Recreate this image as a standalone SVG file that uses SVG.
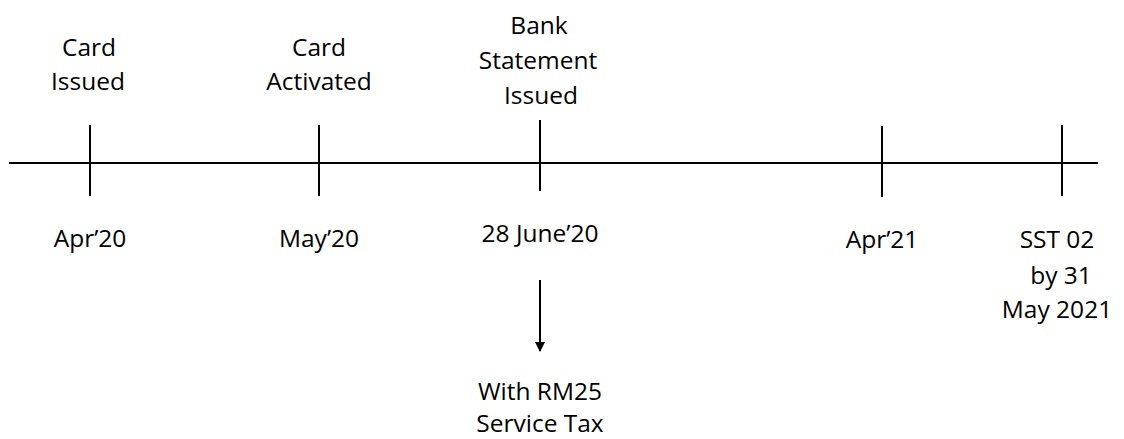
<svg xmlns="http://www.w3.org/2000/svg" width="1124" height="439" viewBox="0 0 1124 439">
<defs>
<style>
text{font-family:"Open Sans","Noto Sans","Liberation Sans",sans-serif;font-size:24.5px;fill:#000;text-anchor:middle}
.ln{stroke:#000;stroke-width:2;fill:none}
</style>
<marker id="ah" markerWidth="10" markerHeight="10" refX="9" refY="5" orient="auto" markerUnits="userSpaceOnUse">
<path d="M0,0 L10,5 L0,10 Z" fill="#000"/>
</marker>
</defs>
<rect width="1124" height="439" fill="#fff"/>
<g id="connectors">
<line class="ln" x1="9" y1="163" x2="1098" y2="163"/>
<line class="ln" x1="540" y1="280" x2="540" y2="351" marker-end="url(#ah)"/>
</g>
<g id="n-apr20">
<line class="ln" x1="90" y1="125" x2="90" y2="196"/>
<text x="89" y="56">Card</text>
<text x="88" y="90">Issued</text>
<text x="90" y="247">Apr’20</text>
</g>
<g id="n-may20">
<line class="ln" x1="319" y1="125" x2="319" y2="196"/>
<text x="319" y="56">Card</text>
<text x="319" y="90">Activated</text>
<text x="319" y="247">May’20</text>
</g>
<g id="n-june20">
<line class="ln" x1="540" y1="120" x2="540" y2="191"/>
<text x="539" y="34">Bank</text>
<text x="538" y="69">Statement</text>
<text x="541" y="104">Issued</text>
<text x="540" y="242">28 June’20</text>
</g>
<g id="n-apr21">
<line class="ln" x1="882" y1="126" x2="882" y2="197"/>
<text x="882" y="248">Apr’21</text>
</g>
<g id="n-sst">
<line class="ln" x1="1062" y1="125" x2="1062" y2="196"/>
<text x="1057" y="248">SST 02</text>
<text x="1061" y="284">by 31</text>
<text x="1057" y="318">May 2021</text>
</g>
<g id="n-tax">
<text x="540" y="400">With RM25</text>
<text x="540" y="432">Service Tax</text>
</g>
</svg>
